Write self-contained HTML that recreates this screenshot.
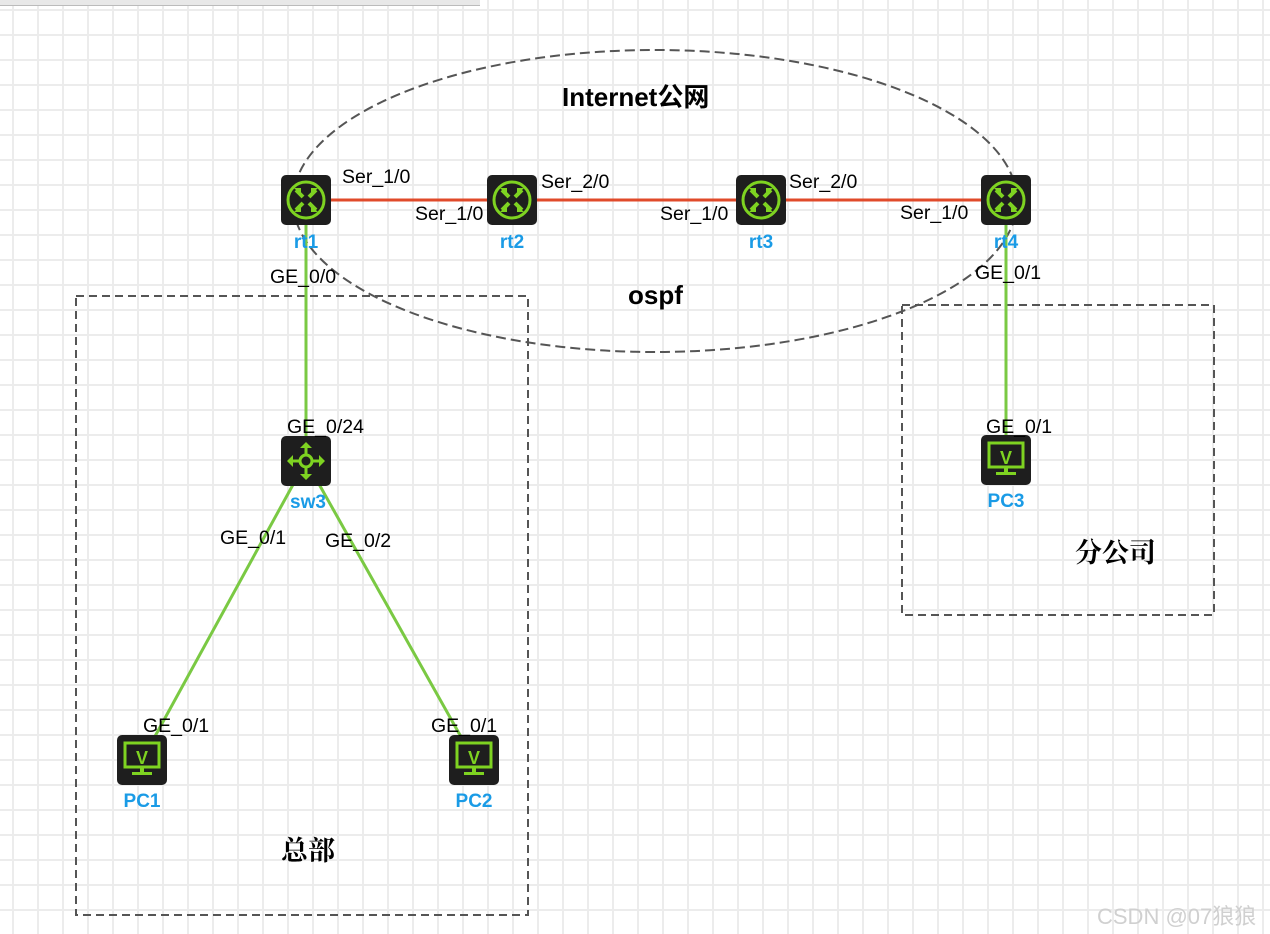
<!DOCTYPE html>
<html><head><meta charset="utf-8"><style>
html,body{margin:0;padding:0}
body{width:1270px;height:934px;position:relative;overflow:hidden;background:#fff;
background-image:linear-gradient(#ececec 2px,transparent 2px),linear-gradient(90deg,#ececec 2px,transparent 2px);
background-size:25px 25px;background-position:12px 9px;font-family:"Liberation Sans","Noto Sans CJK SC",sans-serif}
.t{position:absolute;font-size:19.5px;color:#000;white-space:nowrap}
.n{position:absolute;font-size:19px;font-weight:bold;color:#1a9be6;white-space:nowrap;transform:translateX(-50%)}
</style></head><body>
<div style="position:absolute;left:0;top:0;width:480px;height:5px;background:#e8e8e8;border-bottom:1px solid #bbb"></div>
<svg width="1270" height="934" style="position:absolute;left:0;top:0">
<defs>
<g id="rt"><rect x="-25" y="-25" width="50" height="50" rx="5" fill="#1e1e1e"/><circle r="18" fill="none" stroke="#7ed321" stroke-width="3"/>
<path d="M-10,-10 L-3,-3 M10,-10 L3,-3 M-10,10 L-3,3 M10,10 L3,3" stroke="#7ed321" stroke-width="4"/>
<path d="M-12,-12 h7 v7z M12,-12 h-7 v7z M-12,12 h7 v-7z M12,12 h-7 v-7z" fill="#7ed321"/></g>
<g id="pc"><rect x="-25" y="-25" width="50" height="50" rx="5" fill="#1e1e1e"/><rect x="-17" y="-17" width="34" height="24" fill="none" stroke="#7ed321" stroke-width="3"/>
<text x="0" y="4" text-anchor="middle" font-size="18" font-weight="bold" fill="#7ed321" font-family="Liberation Sans">V</text>
<rect x="-2" y="7" width="4" height="5" fill="#7ed321"/><rect x="-10" y="12" width="20" height="3" fill="#7ed321"/></g>
</defs>
<ellipse cx="655" cy="201" rx="362" ry="151" fill="none" stroke="#555" stroke-width="2" stroke-dasharray="10,5"/>
<rect x="76" y="296" width="452" height="619" fill="none" stroke="#555" stroke-width="2" stroke-dasharray="8,5"/>
<rect x="902" y="305" width="312" height="310" fill="none" stroke="#555" stroke-width="2" stroke-dasharray="8,5"/>
<line x1="306" y1="200" x2="1006" y2="200" stroke="#e04a2a" stroke-width="3"/>
<g stroke="#7ac943" stroke-width="3"><line x1="306" y1="200" x2="306" y2="461"/><line x1="1006" y1="200" x2="1006" y2="460"/>
<line x1="306" y1="461" x2="142" y2="760"/><line x1="306" y1="461" x2="474" y2="760"/></g>
<use href="#rt" x="306" y="200"/><use href="#rt" x="512" y="200"/><use href="#rt" x="761" y="200"/><use href="#rt" x="1006" y="200"/>
<g transform="translate(306,461)"><rect x="-25" y="-25" width="50" height="50" rx="5" fill="#1e1e1e"/><circle r="6" fill="none" stroke="#7ed321" stroke-width="3"/>
<path d="M-17,0 h11 M6,0 h11 M0,-17 v11 M0,6 v11" stroke="#7ed321" stroke-width="3"/>
<path d="M-19,0 l6,-6 v12z M19,0 l-6,-6 v12z M0,-19 l-6,6 h12z M0,19 l-6,-6 h12z" fill="#7ed321"/></g>
<use href="#pc" x="142" y="760"/><use href="#pc" x="474" y="760"/><use href="#pc" x="1006" y="460"/>
</svg>
<div class="t" style="left:562px;top:77px;font-size:26px;font-weight:bold">Internet公网</div>
<div class="t" style="left:628px;top:280px;font-size:26px;font-weight:bold">ospf</div>
<div class="t" style="left:342px;top:166px">Ser_1/0</div>
<div class="t" style="left:415px;top:203px">Ser_1/0</div>
<div class="t" style="left:541px;top:171px">Ser_2/0</div>
<div class="t" style="left:660px;top:203px">Ser_1/0</div>
<div class="t" style="left:789px;top:171px">Ser_2/0</div>
<div class="t" style="left:900px;top:202px">Ser_1/0</div>
<div class="t" style="left:270px;top:266px">GE_0/0</div>
<div class="t" style="left:975px;top:262px">GE_0/1</div>
<div class="t" style="left:287px;top:416px">GE_0/24</div>
<div class="t" style="left:986px;top:416px">GE_0/1</div>
<div class="t" style="left:220px;top:527px">GE_0/1</div>
<div class="t" style="left:325px;top:530px">GE_0/2</div>
<div class="t" style="left:143px;top:715px">GE_0/1</div>
<div class="t" style="left:431px;top:715px">GE_0/1</div>
<div class="n" style="left:306px;top:232px">rt1</div>
<div class="n" style="left:512px;top:232px">rt2</div>
<div class="n" style="left:761px;top:232px">rt3</div>
<div class="n" style="left:1006px;top:232px">rt4</div>
<div class="n" style="left:308px;top:492px">sw3</div>
<div class="n" style="left:142px;top:791px">PC1</div>
<div class="n" style="left:474px;top:791px">PC2</div>
<div class="n" style="left:1006px;top:491px">PC3</div>
<div class="t" style="left:1075px;top:531px;font-size:27px;font-weight:bold;font-family:'Noto Serif CJK SC',serif">分公司</div>
<div class="t" style="left:281px;top:829px;font-size:27px;font-weight:bold;font-family:'Noto Serif CJK SC',serif">总部</div>
<div class="t" style="left:1097px;top:899px;font-size:22px;color:#d0d0d0">CSDN @07狼狼</div>
</body></html>
